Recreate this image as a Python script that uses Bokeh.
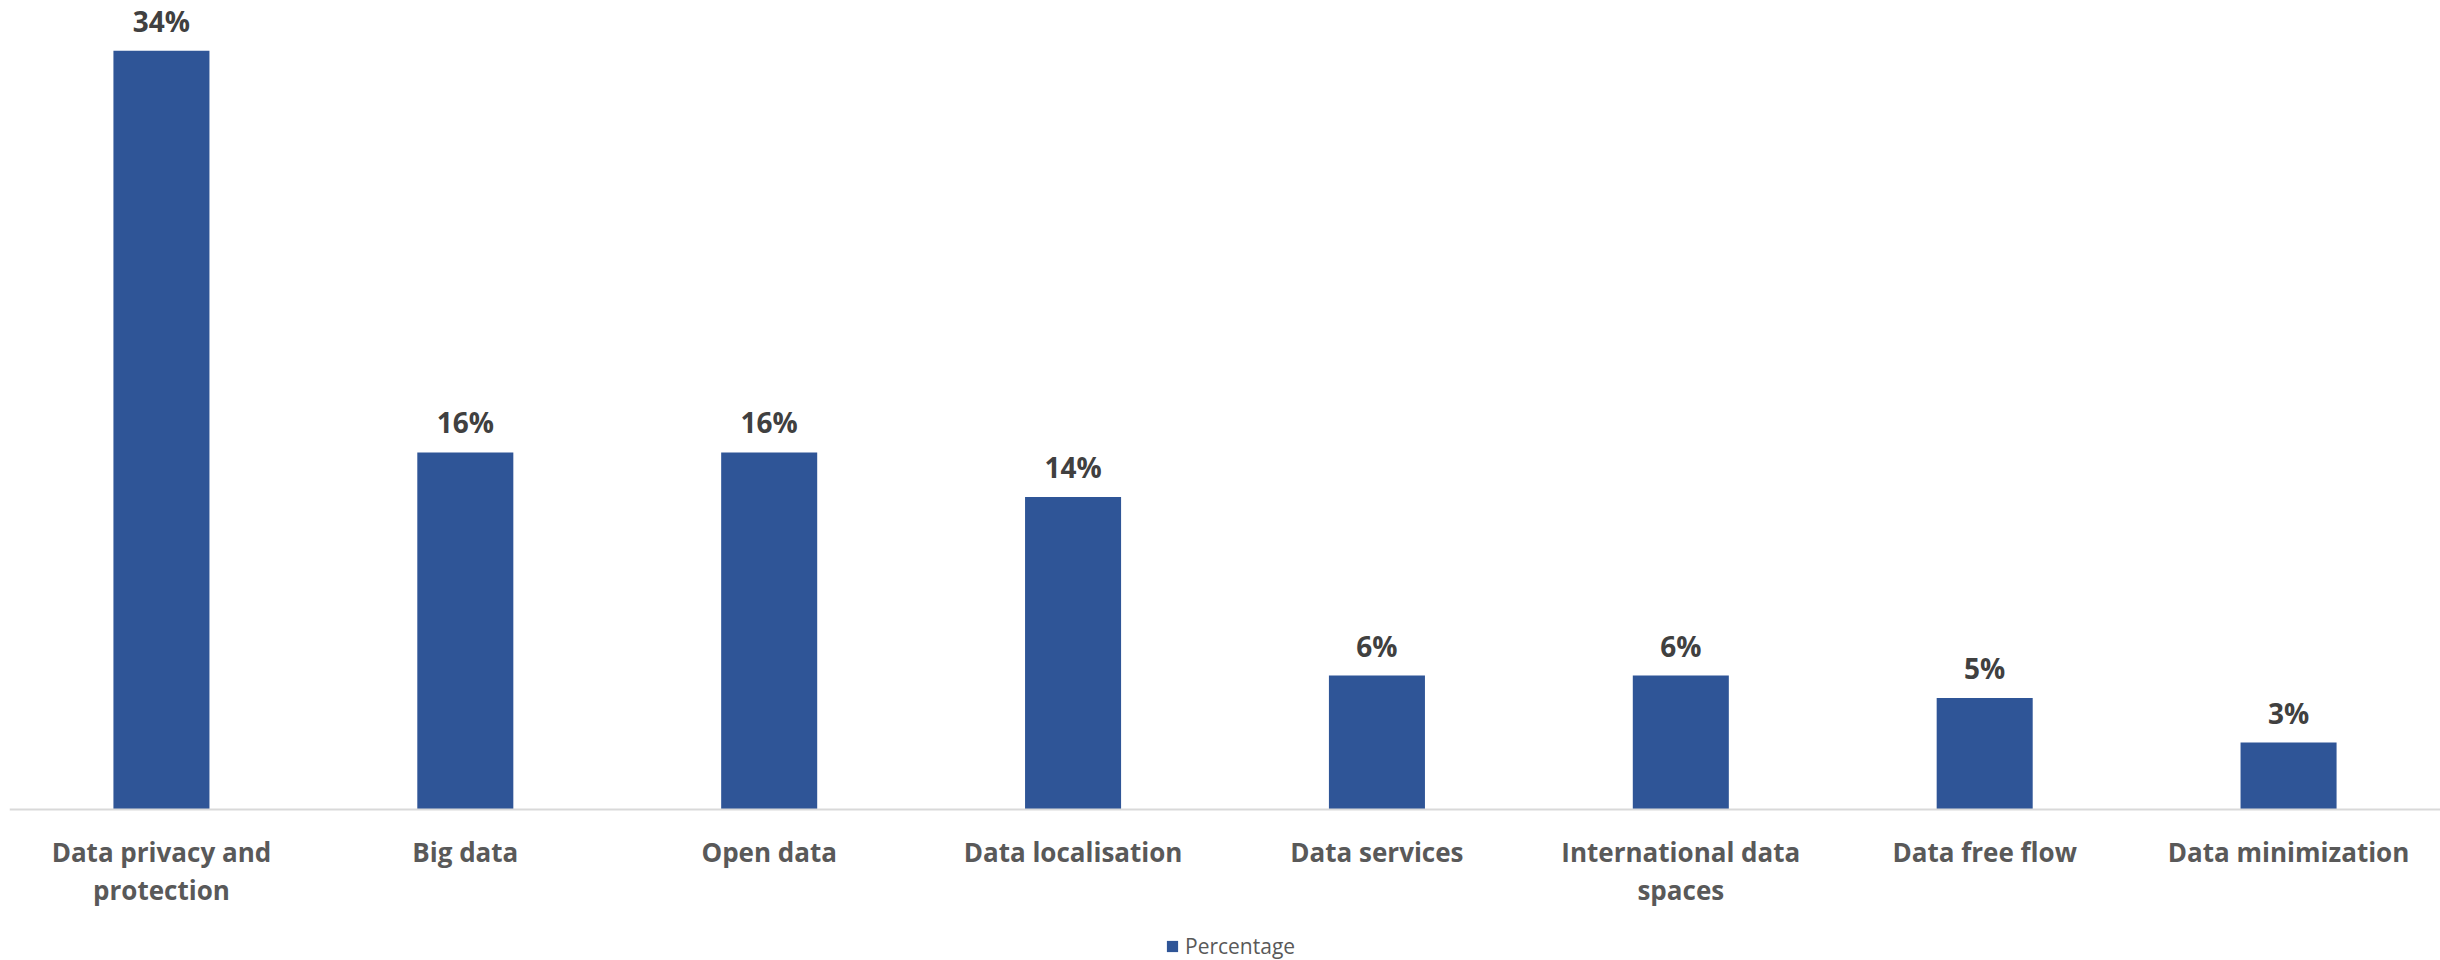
from bokeh.plotting import figure
from bokeh.models import ColumnDataSource, FactorRange, Range1d, Legend, LegendItem, Span
from bokeh.core.properties import value
from bokeh.embed import file_html
from bokeh.resources import INLINE

categories = ["Data privacy and protection", "Big data", "Open data", "Data localisation",
              "Data services", "International data spaces", "Data free flow", "Data minimization"]
label_line1 = ["Data privacy and", "Big data", "Open data", "Data localisation",
               "Data services", "International data", "Data free flow", "Data minimization"]
label_line2 = ["protection", "", "", "", "", "spaces", "", ""]
percentages = [34, 16, 16, 14, 6, 6, 5, 3]
series_name = "Percentage"

BAR = "#2F5597"
src = ColumnDataSource(dict(cat=categories, val=percentages,
                            lab=[f"{v}%" for v in percentages],
                            l1=label_line1, l2=label_line2, zero=[0] * len(categories)))

p = figure(x_range=FactorRange(*categories, range_padding=0), y_range=Range1d(-6.765, 36.246),
           width=2440, height=960, output_backend="svg", toolbar_location=None,
           min_border_left=9, min_border_right=0, min_border_top=0, min_border_bottom=0)
p.outline_line_color = None
p.grid.visible = False
p.axis.visible = False

r = p.vbar(x="cat", top="val", width=0.316, source=src, fill_color=BAR, line_color=None)
p.add_layout(Span(location=0, dimension="width", line_color="#D9D9D9", line_width=2))

p.text(x="cat", y="val", text="lab", source=src, text_align="center", text_baseline="alphabetic",
       y_offset=-30, text_font=value("Open Sans"), text_font_style="bold",
       text_font_size="28px", text_color="#404040")

for col, off in (("l1", 42), ("l2", 80)):
    p.text(x="cat", y="zero", text=col, source=src, text_align="center",
           text_baseline="alphabetic", y_offset=off, text_font=value("Open Sans"),
           text_font_style="bold", text_font_size="26px", text_color="#595959")

legend = Legend(items=[LegendItem(label=series_name, renderers=[r])], orientation="horizontal",
                location=(1156, 0), border_line_color=None, background_fill_alpha=0,
                label_text_font="Open Sans", label_text_font_size="21px",
                label_text_color="#595959", glyph_width=14, glyph_height=14, label_height=14,
                margin=0, padding=0, spacing=0, label_standoff=6)
p.add_layout(legend, "center")

open("out.html", "w").write(file_html(p, INLINE))
